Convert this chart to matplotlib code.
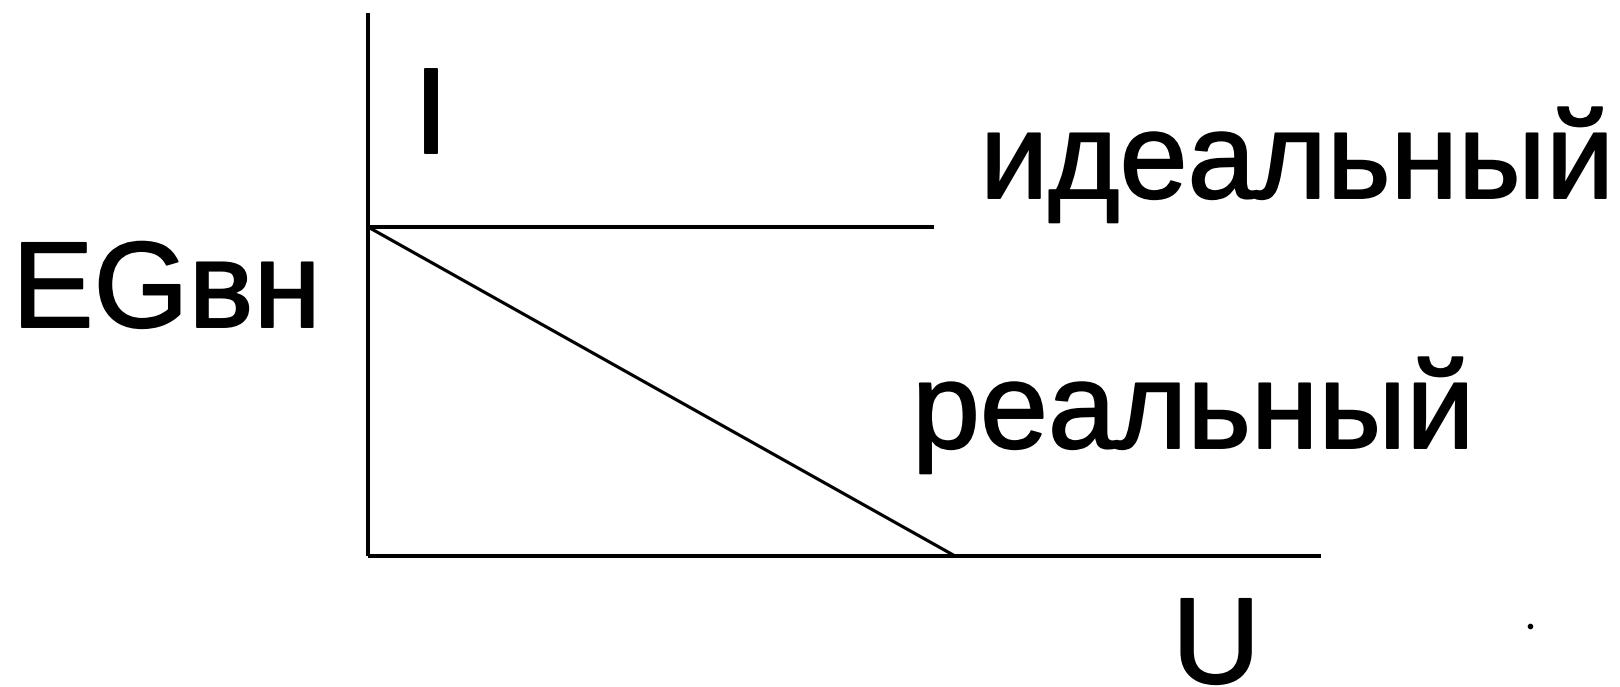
import matplotlib
matplotlib.use("Agg")
import matplotlib.pyplot as plt
import matplotlib.patheffects as pe

plt.rcParams['font.family'] = ['Liberation Sans', 'DejaVu Sans']

# Data (normalized U and I)
U_ideal = [0.0, 0.594]
I_ideal = [0.606, 0.606]
U_real = [0.0, 0.616]
I_real = [0.606, 0.0]
U_dot = [1.219]
I_dot = [-0.129]
label_ideal = "идеальный"
label_real = "реальный"
label_y = "I"
label_y2 = "EGвн"
label_x = "U"

W, H = 1620, 687
fig = plt.figure(figsize=(W / 100, H / 100), dpi=100)
fig.patch.set_facecolor('white')

ox, oy = 368, 556
top, right = 13, 1321
ax = fig.add_axes([ox / W, (H - oy) / H, (right - ox) / W, (oy - top) / H])
ax.set_xlim(0, 1)
ax.set_ylim(0, 1)
for s in ['top', 'right']:
    ax.spines[s].set_visible(False)
for s in ['left', 'bottom']:
    ax.spines[s].set_linewidth(2.9)
    ax.spines[s].set_color('black')
    ax.spines[s].set_capstyle('butt')
ax.set_xticks([])
ax.set_yticks([])
ax.patch.set_alpha(0)

ax.plot(U_ideal, I_ideal, color='black', lw=2.9, solid_capstyle='butt', clip_on=False)
ax.plot(U_real, I_real, color='black', lw=2.3, solid_capstyle='butt', clip_on=False)
ax.plot(U_dot, I_dot, 'o', color='black', ms=3, clip_on=False)

fs = 88
stroke = [pe.withStroke(linewidth=1.4, foreground='black')]
def ftext(x, y, s):
    fig.text(x / W, 1 - y / H, s, fontsize=fs, ha='left', va='baseline',
             color='black', path_effects=stroke)

ftext(414, 153, label_y)
ftext(12, 327, label_y2)
ftext(980, 198, label_ideal)
ftext(912, 448, label_real)
ftext(1172, 683, label_x)

fig.savefig("out.png", dpi=100, facecolor='white')
